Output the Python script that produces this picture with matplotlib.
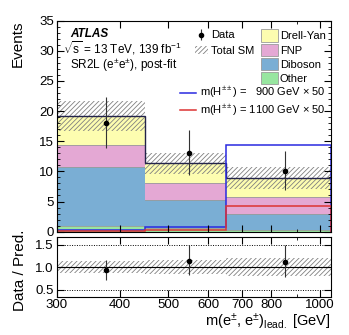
import numpy as np
import matplotlib
matplotlib.use("Agg")
import matplotlib.pyplot as plt
from matplotlib.ticker import FixedLocator, NullFormatter, MultipleLocator
from matplotlib.patches import Patch
from matplotlib.lines import Line2D

plt.rcParams['font.family'] = ['Liberation Sans', 'DejaVu Sans']
plt.rcParams['mathtext.fontset'] = 'custom'
plt.rcParams['mathtext.rm'] = 'Liberation Sans'
plt.rcParams['mathtext.it'] = 'Liberation Sans:italic'
plt.rcParams['mathtext.bf'] = 'Liberation Sans:bold'
plt.rcParams['hatch.linewidth'] = 0.6

# binning in m(e, e) lead [GeV]
edges = [300, 450, 650, 1050]

# post-fit backgrounds
other = [0.95, 0.6, 0.35]
diboson = [9.85, 4.65, 2.6]
fnp = [3.6, 2.8, 2.85]
drell_yan = [4.75, 3.3, 3.1]
total_unc = [2.45, 1.75, 1.75]

# data
data = [18, 13, 10]
data_err_lo = [4.2, 3.6, 3.1]
data_err_hi = [4.4, 3.8, 3.3]

# signal x 50
sig_900 = [0.35, 0.75, 14.4]
sig_1100 = [0.15, 0.3, 4.3]

col_dy = '#fdfdb0'
col_fnp = '#e4a8d4'
col_dib = '#7aaed4'
col_oth = '#98e6a0'

edges = np.array(edges, dtype=float)
centers = 0.5 * (edges[:-1] + edges[1:])
total = np.array(other) + np.array(diboson) + np.array(fnp) + np.array(drell_yan)

fig = plt.figure(figsize=(3.49, 3.35), dpi=100)
ax = fig.add_axes([0.1625, 0.3085, 0.7855, 0.630])
rax = fig.add_axes([0.1625, 0.1143, 0.7855, 0.1773], sharex=ax)

# stacked backgrounds
bottom = np.zeros(3)
for vals, col in [(other, col_oth), (diboson, col_dib), (fnp, col_fnp), (drell_yan, col_dy)]:
    vals = np.array(vals)
    ax.stairs(bottom + vals, edges, baseline=bottom, fill=True, color=col)
    ax.stairs(bottom + vals, edges, baseline=None, color='#9a9a9a', lw=0.6)
    bottom = bottom + vals

# total SM uncertainty
ax.stairs(total + np.array(total_unc), edges, baseline=total - np.array(total_unc),
          fill=True, facecolor='none', edgecolor='#808080', hatch='///////', lw=0)
ax.stairs(total, edges, baseline=None, color='#23234a', lw=1.0)

# signals
ax.stairs(sig_900, edges, baseline=0, color='#2a2ae0', lw=1.1)
ax.stairs(sig_1100, edges, baseline=0, color='#dd3333', lw=1.1)

# data
data_h = ax.errorbar(centers, data, yerr=[data_err_lo, data_err_hi], fmt='o', color='black',
                     ms=3.0, elinewidth=0.8, ecolor='#333333', capsize=0)

ax.set_xscale('log')
ax.set_xlim(300, 1050)
ax.set_ylim(0, 35)
ax.yaxis.set_major_locator(MultipleLocator(5))
ax.yaxis.set_minor_locator(MultipleLocator(1))
ax.text(-0.141, 1.0, 'Events', transform=ax.transAxes, rotation=90, fontsize=11,
        ha='center', va='top')
plt.setp(ax.get_xticklabels(), visible=False)

# labels
ax.text(0.048, 0.938, 'ATLAS', transform=ax.transAxes, fontsize=8.5, fontweight='bold',
        fontstyle='italic', va='center')
ax.text(0.022, 0.868, r'$\sqrt{\mathrm{s}}$ = 13 TeV, 139 fb$^{\mathregular{-1}}$',
        transform=ax.transAxes, fontsize=8.5, va='center')
ax.text(0.048, 0.788, r'SR2L (e$^{\pm}$e$^{\pm}$), post-fit', transform=ax.transAxes,
        fontsize=8.5, va='center')

# legends
h1 = [data_h, Patch(facecolor='white', edgecolor='#808080', hatch='///////', lw=0)]
leg1 = ax.legend(h1, ['Data', 'Total SM'], loc='upper left', bbox_to_anchor=(0.475, 0.99),
                 frameon=False, fontsize=8, handlelength=1.2, handletextpad=0.3,
                 labelspacing=0.5, borderpad=0.2)
ax.add_artist(leg1)
h2 = [Patch(facecolor=c, edgecolor='#9a9a9a', lw=0.6) for c in [col_dy, col_fnp, col_dib, col_oth]]
leg2 = ax.legend(h2, ['Drell-Yan', 'FNP', 'Diboson', 'Other'], loc='upper left',
                 bbox_to_anchor=(0.715, 0.995), frameon=False, fontsize=8,
                 handlelength=1.6, handleheight=1.35, handletextpad=0.15,
                 labelspacing=0.15, borderpad=0.2)
ax.add_artist(leg2)
h3 = [Line2D([], [], color='#2a2ae0', lw=1.1), Line2D([], [], color='#dd3333', lw=1.1)]
ax.legend(h3, [r'm(H$^{\pm\pm}$) =   900 GeV $\times$ 50', r'm(H$^{\pm\pm}$) = 1100 GeV $\times$ 50'],
          loc='upper left', bbox_to_anchor=(0.42, 0.73), frameon=False, fontsize=8,
          handlelength=1.5, handletextpad=0.3, labelspacing=0.2, borderpad=0.2)

# ratio panel
ratio = np.array(data) / total
ratio_lo = np.array(data_err_lo) / total
ratio_hi = np.array(data_err_hi) / total
band = np.array(total_unc) / total
rax.stairs(1 + band, edges, baseline=1 - band, fill=True, facecolor='none',
           edgecolor='#808080', hatch='///////', lw=0)
rax.axhline(1.0, color='black', lw=0.8)
for yl in [0.5, 1.5]:
    rax.axhline(yl, color='black', lw=0.7, ls=(0, (1, 1.5)))
rax.errorbar(centers, ratio, yerr=[ratio_lo, ratio_hi], fmt='o', color='black',
             ms=3.0, elinewidth=0.8, ecolor='#333333', capsize=0)
rax.set_ylim(0.35, 1.66)
rax.yaxis.set_major_locator(FixedLocator([0.5, 1.0, 1.5]))
rax.yaxis.set_major_formatter(matplotlib.ticker.FormatStrFormatter('%.1f'))
rax.text(-0.134, 0.45, 'Data / Pred.', transform=rax.transAxes, rotation=90, fontsize=11,
         ha='center', va='center')

rax.xaxis.set_major_locator(FixedLocator([300, 400, 500, 600, 700, 800, 1000]))
rax.xaxis.set_major_formatter(matplotlib.ticker.FixedFormatter(['300', '400', '500', '600', '700', '800', '1000']))
rax.xaxis.set_minor_locator(FixedLocator([900]))
rax.xaxis.set_minor_formatter(NullFormatter())
rax.set_xlabel(r'm(e$^{\pm}$, e$^{\pm}$)$_{\mathregular{lead.}}$ [GeV]', fontsize=10.5,
               loc='right', labelpad=0)

for a in (ax, rax):
    a.tick_params(which='both', direction='in', top=True, right=True, labelsize=9.5, pad=2)
    a.tick_params(which='major', length=5)
    a.tick_params(which='minor', length=2.5)
    for s in a.spines.values():
        s.set_linewidth(0.8)

fig.savefig('out.png', dpi=100)
